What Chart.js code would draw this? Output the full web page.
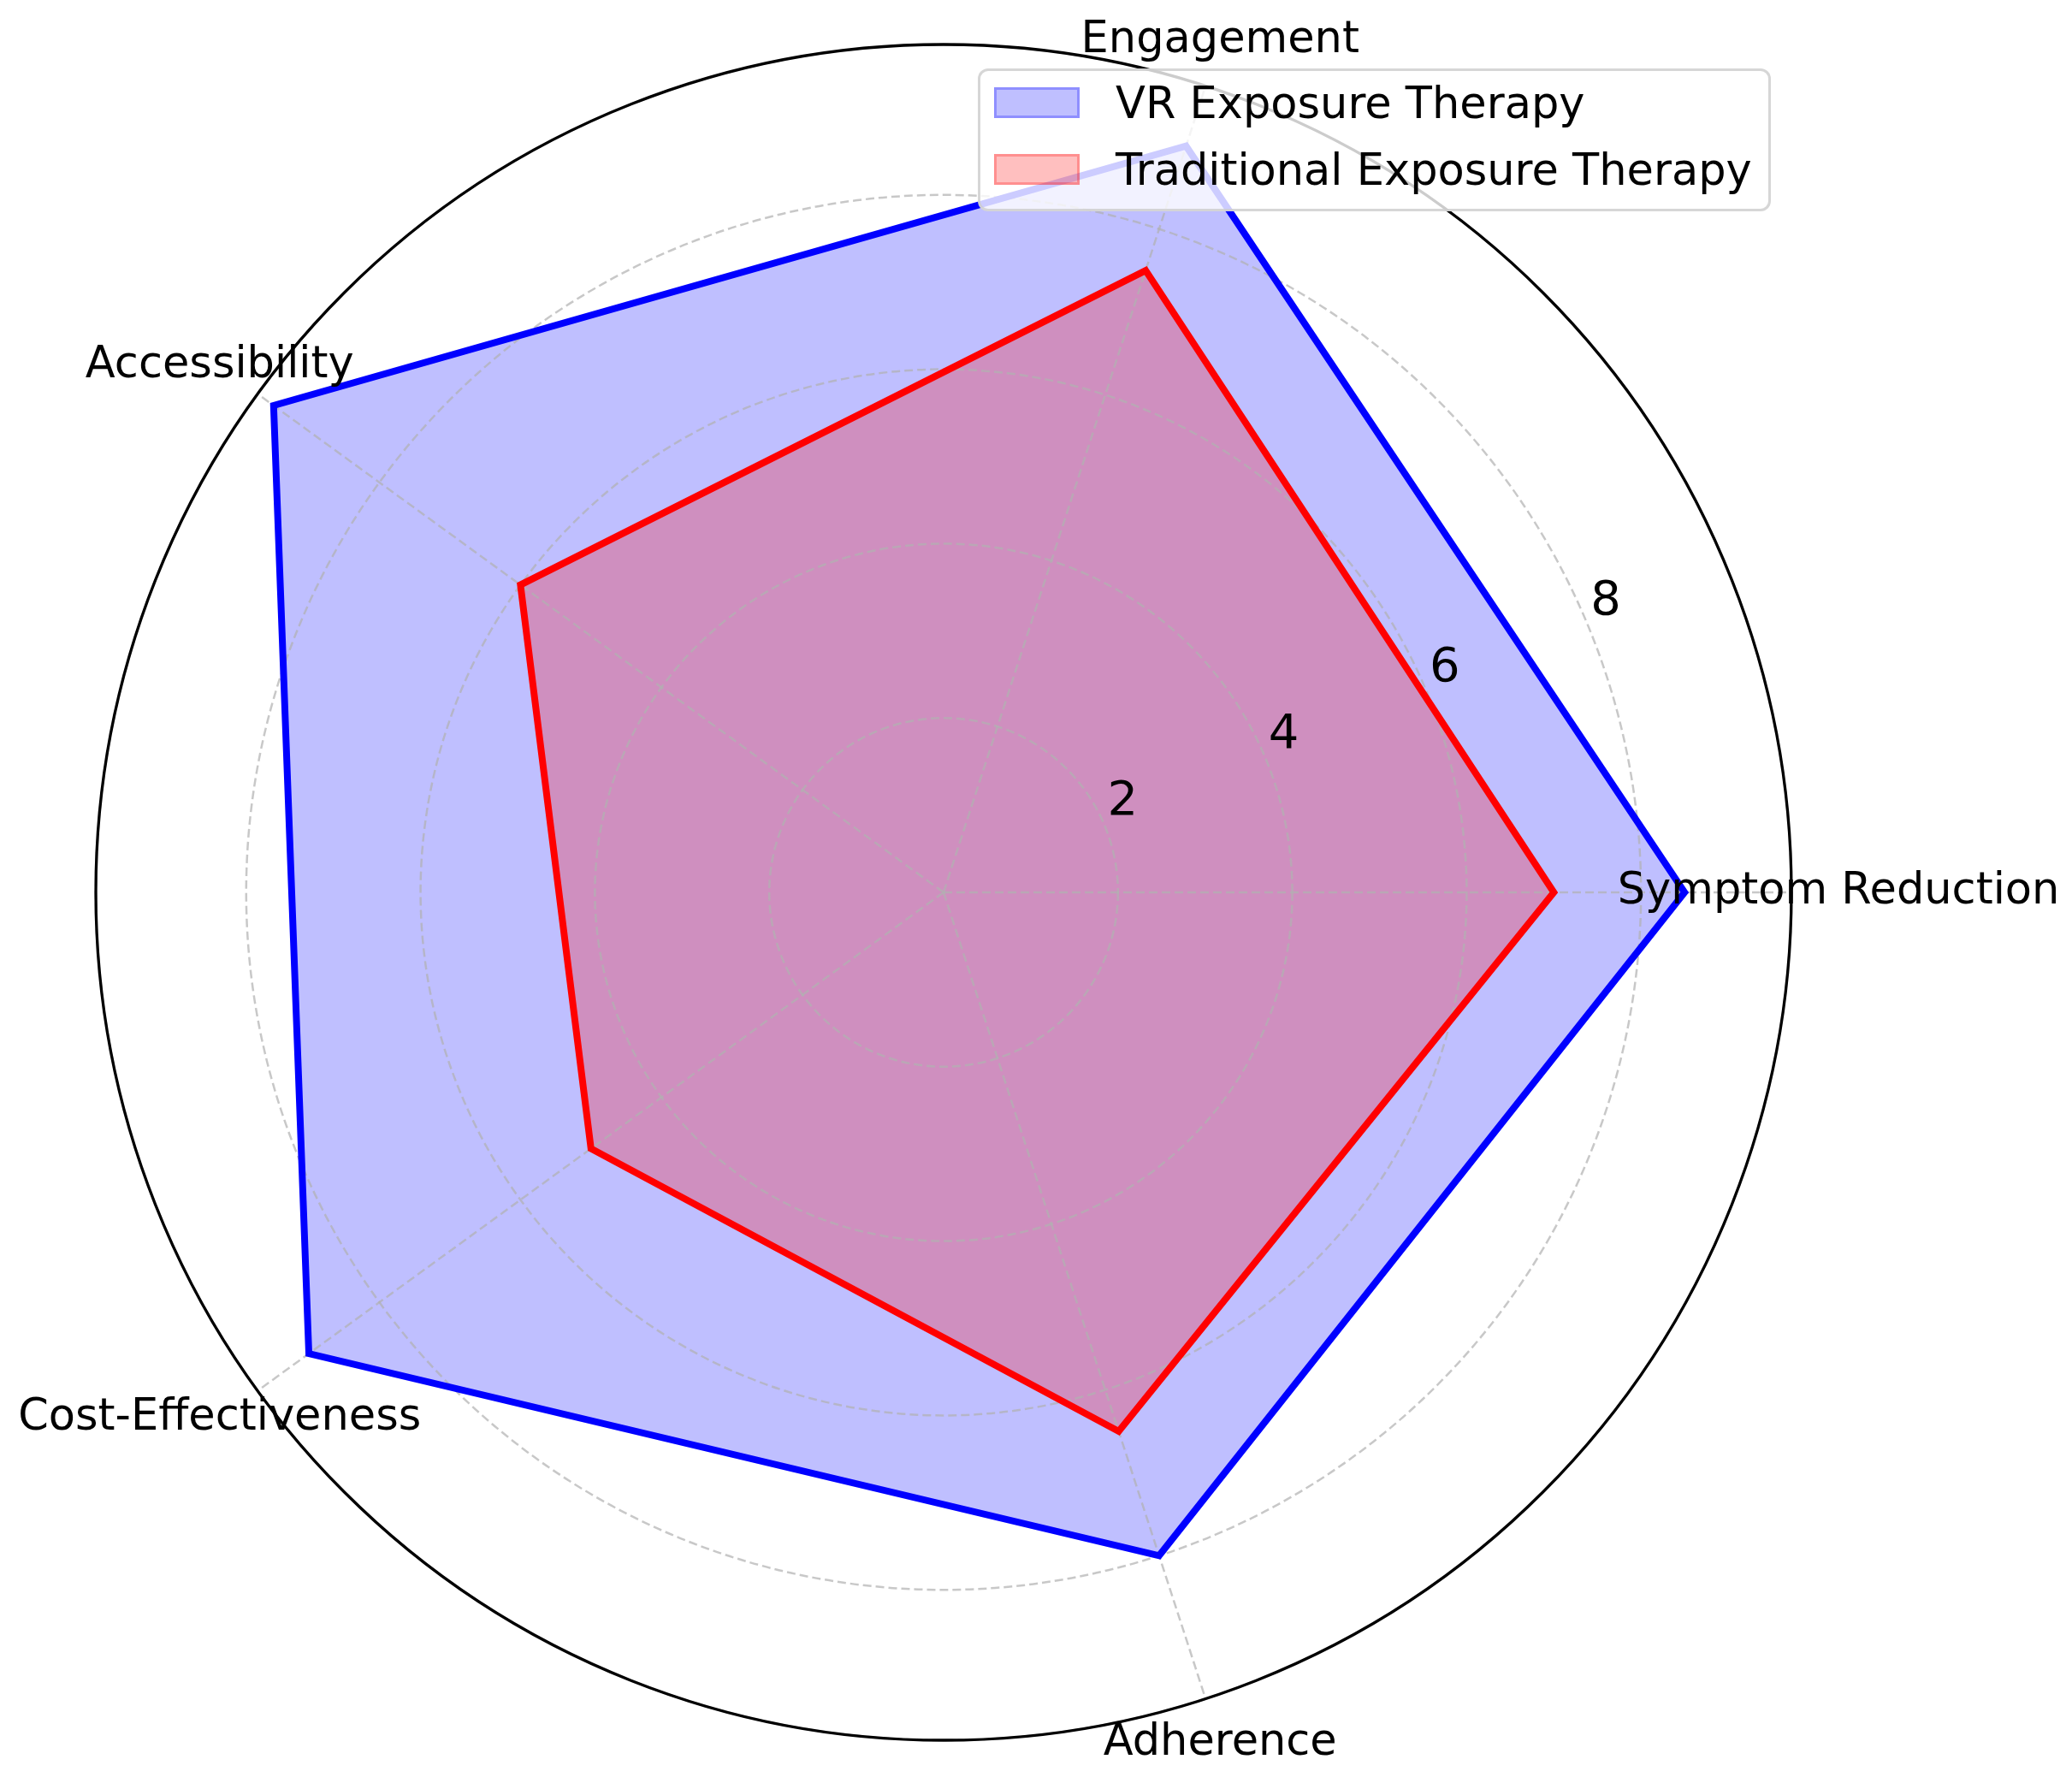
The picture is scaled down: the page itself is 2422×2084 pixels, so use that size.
<!DOCTYPE html>
<html>
<head>
<meta charset="utf-8">
<script src="https://cdn.jsdelivr.net/npm/chart.js@4.4.0/dist/chart.umd.min.js"></script>
<style>
  html, body { margin: 0; padding: 0; background: #ffffff; }
  #wrap { position: relative; width: 2422px; height: 2084px; overflow: hidden; }
  #chart { position: absolute; left: 0; top: 0; }
  #legend {
    position: absolute; left: 1143px; top: 80px; width: 927px; height: 167px;
    box-sizing: border-box; background: rgba(255,255,255,0.8);
    border: 3px solid rgba(204,204,204,0.8); border-radius: 12px;
    font-family: "DejaVu Sans", sans-serif; font-size: 51px; color: #000;
  }
  .row { position: absolute; left: 16px; height: 60px; display: flex; align-items: center; white-space: nowrap; }
  .patch { width: 100px; height: 36px; box-sizing: border-box; margin-right: 42px; }
</style>
</head>
<body>
<div id="wrap">
  <canvas id="chart" width="2422" height="2084"></canvas>
  <div id="legend"></div>
</div>
<script>
// ---- data (mathematical order, counter-clockwise from the right) ----
const categories = ["Symptom Reduction", "Engagement", "Accessibility", "Cost-Effectiveness", "Adherence"];
const vrValues = [8.5, 9.0, 9.5, 9.0, 8.0];
const traditionalValues = [7.0, 7.5, 6.0, 5.0, 6.5];
const seriesNames = ["VR Exposure Therapy", "Traditional Exposure Therapy"];
const tickValues = [2, 4, 6, 8];
const tickLabels = ["2", "4", "6", "8"];
const radialMax = 9.725;

// Chart.js goes clockwise, matplotlib counter-clockwise: keep first, reverse the rest
const order = [0].concat(categories.map((_, i) => i).slice(1).reverse());
const pick = arr => order.map(i => arr[i]);

const FONT = '"DejaVu Sans", sans-serif';

const mplDecor = {
  id: 'mplDecor',
  afterDatasetsDraw(chart) {
    const s = chart.scales.r;
    const ctx = chart.ctx;
    ctx.save();
    // outer spine
    ctx.beginPath();
    ctx.arc(s.xCenter, s.yCenter, s.getDistanceFromCenterForValue(radialMax), 0, Math.PI * 2);
    ctx.lineWidth = 3.3;
    ctx.strokeStyle = '#000000';
    ctx.setLineDash([]);
    ctx.stroke();
    // radial tick labels at 22.5 deg
    const a = -22.5 * Math.PI / 180;
    ctx.fillStyle = '#000000';
    ctx.font = '56px ' + FONT;
    ctx.textAlign = 'center';
    ctx.textBaseline = 'alphabetic';
    tickValues.forEach((v, i) => {
      const r = s.getDistanceFromCenterForValue(v);
      const x = s.xCenter + r * Math.cos(a) + 21;
      const y = s.yCenter + r * Math.sin(a) - 33 + 0.3645 * 56;
      ctx.fillText(tickLabels[i], x, y);
    });
    // category labels
    ctx.font = '51px ' + FONT;
    ctx.textBaseline = 'middle';
    chart.data.labels.forEach((lab, i) => {
      const p = s.getPointPosition(i, s.drawingArea + 55);
      ctx.fillText(lab, p.x, p.y);
    });
    ctx.restore();
  }
};

const chart = new Chart(document.getElementById('chart'), {
  type: 'radar',
  data: {
    labels: pick(categories),
    datasets: [
      {
        label: seriesNames[0],
        data: pick(vrValues),
        borderColor: '#0000ff',
        backgroundColor: 'rgba(0,0,255,0.25)',
        borderWidth: 8,
        fill: true,
        order: 2
      },
      {
        label: seriesNames[1],
        data: pick(traditionalValues),
        borderColor: '#ff0000',
        backgroundColor: 'rgba(255,0,0,0.25)',
        borderWidth: 8,
        fill: true,
        order: 1
      }
    ]
  },
  options: {
    responsive: false,
    animation: false,
    events: [],
    layout: { padding: { left: 112, top: 52, right: 328, bottom: 50 } },
    elements: {
      point: { radius: 0, hoverRadius: 0 },
      line: { tension: 0, borderJoinStyle: 'miter' }
    },
    plugins: {
      legend: { display: false },
      tooltip: { enabled: false },
      filler: { drawTime: 'beforeDraw' }
    },
    scales: {
      r: {
        min: 0,
        max: radialMax,
        startAngle: 90,
        afterBuildTicks: (scale) => {
          scale.ticks = [0].concat(tickValues, [radialMax]).map(v => ({ value: v }));
        },
        ticks: { display: false },
        pointLabels: { display: false },
        grid: { color: 'rgba(176,176,176,0.7)', lineWidth: 2.5, circular: true },
        border: { dash: [10, 5] },
        angleLines: { display: true, color: 'rgba(176,176,176,0.7)', lineWidth: 2.5, borderDash: [10, 5] }
      }
    }
  },
  plugins: [mplDecor]
});

// HTML legend
const legend = document.getElementById('legend');
const legendColors = [['rgba(0,0,255,0.25)', 'rgba(0,0,255,0.25)'], ['rgba(255,0,0,0.25)', 'rgba(255,0,0,0.25)']];
const rowCenters = [40, 118];
seriesNames.forEach((name, i) => {
  const row = document.createElement('div');
  row.className = 'row';
  row.style.top = (rowCenters[i] - 30 - 3) + 'px';
  const patch = document.createElement('div');
  patch.className = 'patch';
  patch.style.background = legendColors[i][0];
  patch.style.border = '3px solid ' + legendColors[i][1];
  const txt = document.createElement('span');
  txt.textContent = name;
  row.appendChild(patch);
  row.appendChild(txt);
  legend.appendChild(row);
});
</script>
</body>
</html>
